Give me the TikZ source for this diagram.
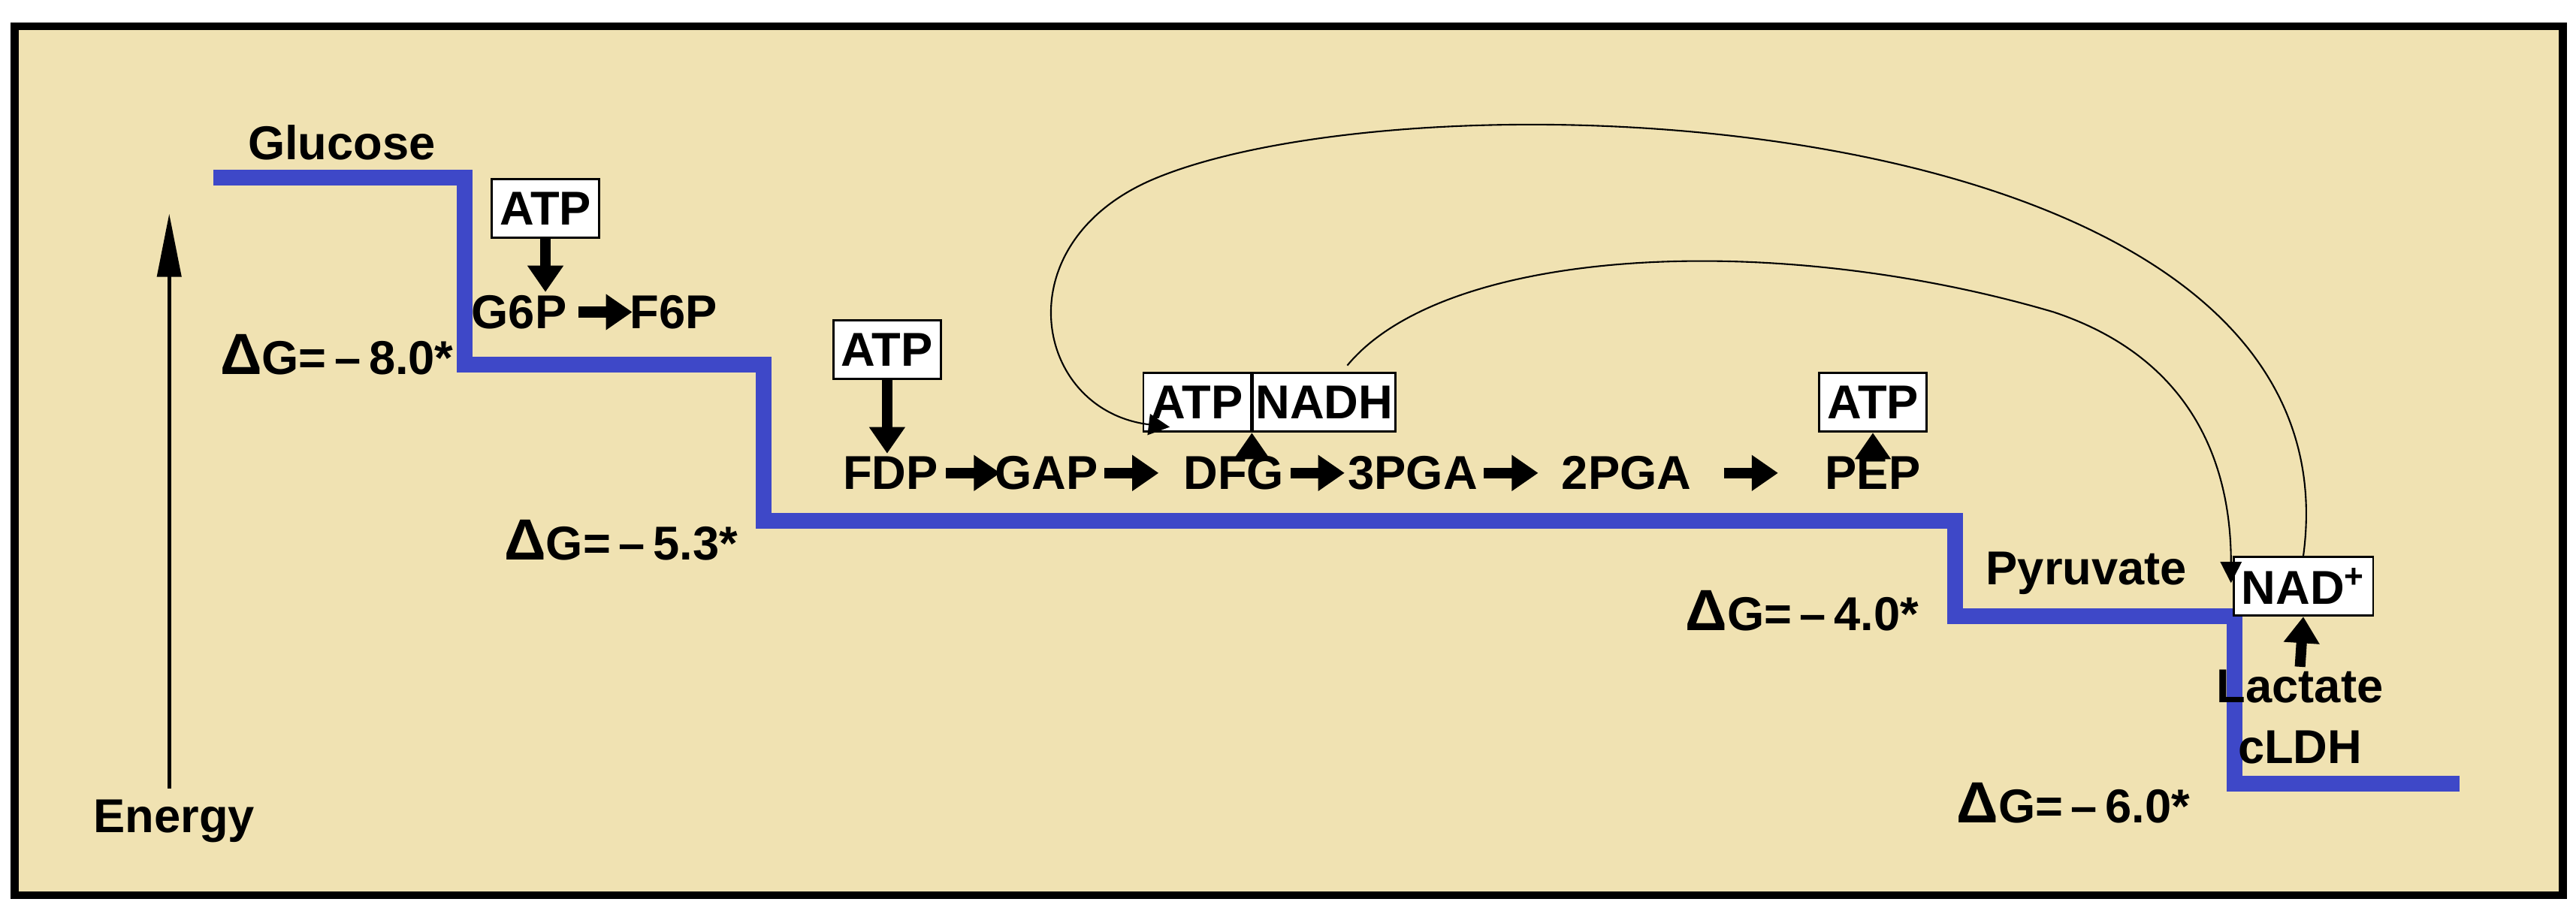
\documentclass[tikz,border=0pt]{standalone}
\usepackage{fontspec}
\setmainfont{Liberation Sans}
\usetikzlibrary{arrows.meta}
\definecolor{bgtan}{RGB}{240,226,178}
\definecolor{stairblue}{RGB}{62,72,200}
\tikzset{lbl/.style={font=\fontsize{18}{20}\selectfont\bfseries,inner sep=1pt}}
\tikzset{boxed/.style={lbl,draw,thick,fill=white,inner sep=3pt,minimum height=0.78cm}}
\tikzset{fat/.style={black,line width=4pt,-{Triangle[width=13pt,length=10pt]}}}
\tikzset{thin/.style={black,semithick,-{Triangle[width=8pt,length=8pt]}}}
\tikzset{dg/.style={lbl}}
\newcommand{\bigdelta}{{\fontsize{22}{22}\selectfont Δ}}
\begin{document}
\begin{tikzpicture}[x=0.02187cm,y=-0.02187cm]
  \useasboundingbox (0,0) rectangle (1568,560);
  \fill[white] (0,0) rectangle (1568,560);
  \draw[line width=3pt,fill=bgtan] (9,16) rectangle (1560,545);

  % Staircase
  \draw[stairblue,line width=6pt] (130,108) -- (283,108) -- (283,222) -- (465,222) -- (465,317)
    -- (1190,317) -- (1190,375) -- (1360,375) -- (1360,477) -- (1497,477);

  % Energy axis
  \coordinate (e0) at (103,480);
  \coordinate (e1) at (103,130);
  \draw[black,line width=1.5pt,-{Triangle[width=9pt,length=24pt]}] (e0) -- (e1);
  \node[lbl] (energy) at (106,500) {Energy};

  % Metabolites
  \node[lbl] (glc) at (208,87) {Glucose};
  \node[lbl] (g6p) at (316,190) {G6P};
  \node[lbl] (f6p) at (410,190) {F6P};
  \node[lbl] (fdp) at (542,288) {FDP};
  \node[lbl] (gap) at (637,288) {GAP};
  \node[lbl] (dfg) at (751,288) {DFG};
  \node[lbl] (pga3) at (860,288) {3PGA};
  \node[lbl] (pga2) at (990,288) {2PGA};
  \node[lbl] (pep) at (1140,288) {PEP};
  \node[lbl] (pyr) at (1270,349) {Pyruvate};
  \node[lbl] (lac) at (1400,418) {Lactate};
  \node[lbl] (cldh) at (1400,455) {cLDH};

  % Cofactor boxes
  \node[boxed] (atp1) at (332,127) {ATP};
  \node[boxed] (atp2) at (540,213) {ATP};
  \node[boxed,anchor=east] (atp3) at (762,245) {ATP};
  \node[boxed,anchor=west,inner xsep=1pt] (nadh) at (762,245) {NADH};
  \node[boxed] (atp4) at (1140,245) {ATP};
  \node[boxed] (nad) at (1402,357) {NAD\textsuperscript{+}};

  % Free energies
  \node[dg] (dg1) at (205,216) {\bigdelta G=\,--\,8.0*};
  \node[dg] (dg2) at (378,329) {\bigdelta G=\,--\,5.3*};
  \node[dg] (dg3) at (1097,372) {\bigdelta G=\,--\,4.0*};
  \node[dg] (dg4) at (1262,489) {\bigdelta G=\,--\,6.0*};

  % Reaction arrows
  \draw[fat] (atp1.south) -- (atp1.south |- g6p.north);
  \draw[fat] (atp2.south) -- (atp2.south |- fdp.north);
  \draw[fat] (atp3.south east |- dfg.north) -- (atp3.south east);
  \draw[fat] (pep.north) -- (atp4.south);
  \draw[fat] (lac.north) -- (nad.south);
  \draw[fat] (g6p.east) ++(5,0) -- ++(33,0);
  \draw[fat] (fdp.east) ++(3,0) -- ++(33,0);
  \draw[fat] (gap.east) ++(2,0) -- ++(33,0);
  \draw[fat] (dfg.east) ++(2,0) -- ++(33,0);
  \draw[fat] (pga3.east) ++(2,0) -- ++(33,0);
  \draw[fat] (pga2.east) ++(18,0) -- ++(33,0);

  % Recycling curves
  \coordinate (nadtip) at (712,260);
  \coordinate (pyrtip) at (1358,355);
  \draw[thin] (nad.north) .. controls (1440,60) and (860,40) .. (700,110)
    .. controls (610,150) and (630,250) .. (nadtip);
  \draw[thin] (nadh.north east) ++(-30,-4) .. controls (880,150) and (1080,140) .. (1250,190)
    .. controls (1340,220) and (1358,290) .. (pyrtip);
\end{tikzpicture}
\end{document}
